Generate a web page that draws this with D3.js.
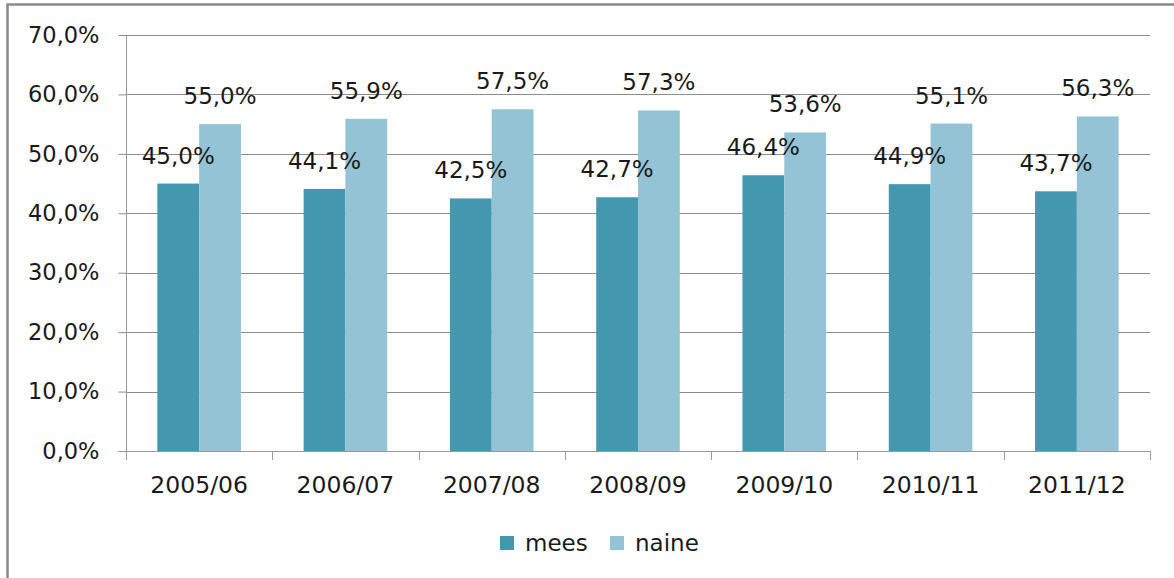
<!DOCTYPE html>
<html>
<head>
<meta charset="utf-8">
<script src="https://cdn.jsdelivr.net/npm/d3@7"></script>
<style>
  body { margin: 0; background: #fff; }
  text { font-family: "DejaVu Sans", sans-serif; fill: #1a1a1a; }
</style>
</head>
<body>
<div id="main"></div>
<script>
const categories = ["2005/06", "2006/07", "2007/08", "2008/09", "2009/10", "2010/11", "2011/12"];
const seriesNames = ["mees", "naine"];
const mees = [45.0, 44.1, 42.5, 42.7, 46.4, 44.9, 43.7];
const naine = [55.0, 55.9, 57.5, 57.3, 53.6, 55.1, 56.3];
const yTicks = [0, 10, 20, 30, 40, 50, 60, 70];
const colors = ["#4398b0", "#93c3d5"];

const svgWidth = 1174;
const svgHeight = 578;
const fmt = v => v.toFixed(1).replace(".", ",") + "%";

const svg = d3.select("#main")
              .append("svg")
              .attr("width", svgWidth)
              .attr("height", svgHeight);

// outer frame (only top and left edges show)
svg.append("path")
   .attr("d", "M7.5," + svgHeight + " V4.5 H" + svgWidth)
   .attr("fill", "none")
   .attr("stroke", "#8a8a8a")
   .attr("stroke-width", 2.5);

const xScale = d3.scaleBand()
                 .domain(categories)
                 .range([126, 1150])
                 .padding(0);

const xInner = d3.scaleBand()
                 .domain(seriesNames)
                 .range([0, xScale.bandwidth()])
                 .paddingInner(0)
                 .paddingOuter(0.75);

const yScale = d3.scaleLinear()
                 .domain([0, 70])
                 .range([451, 35]);

// gridlines + left axis
const yAxis = d3.axisLeft(yScale)
                .tickValues(yTicks)
                .tickSize(8)
                .tickFormat(fmt);

svg.append("g")
   .attr("class", "grid")
   .selectAll("line")
   .data(yTicks.filter(d => d > 0))
   .enter()
   .append("line")
   .attr("x1", 126)
   .attr("x2", 1150)
   .attr("y1", d => Math.round(yScale(d)) + 0.5)
   .attr("y2", d => Math.round(yScale(d)) + 0.5)
   .attr("stroke", "#8c8c8c");

const gy = svg.append("g")
              .attr("transform", "translate(126.5,0)")
              .call(yAxis);
gy.select(".domain").attr("stroke", "#9a9a9a").attr("d", "M0,35V451");
gy.selectAll(".tick line").attr("stroke", "#8c8c8c");
gy.selectAll(".tick text")
  .attr("x", -27)
  .attr("font-size", "22.5px")
  .attr("font-family", "DejaVu Sans");

// bottom axis
const xAxis = d3.axisBottom(xScale)
                .tickSize(0)
                .tickPadding(0);

const gx = svg.append("g")
              .attr("transform", "translate(0,451.5)")
              .call(xAxis);
gx.select(".domain").attr("stroke", "#9a9a9a").attr("d", "M118,0H1150");
gx.selectAll(".tick text")
  .attr("y", 25)
  .attr("dy", "0.71em")
  .attr("font-size", "23.5px")
  .attr("font-family", "DejaVu Sans");

svg.append("g")
   .selectAll("line")
   .data(categories.map(c => xScale(c)).concat([xScale.range()[1]]))
   .enter()
   .append("line")
   .attr("x1", d => Math.round(d) + 0.5)
   .attr("x2", d => Math.round(d) + 0.5)
   .attr("y1", 451)
   .attr("y2", 460)
   .attr("stroke", "#9a9a9a");

// bars
const rows = categories.map((c, i) => ({ cat: c, values: [mees[i], naine[i]] }));

const groups = svg.selectAll(".group")
                  .data(rows)
                  .enter()
                  .append("g")
                  .attr("class", "group")
                  .attr("transform", d => "translate(" + xScale(d.cat) + ",0)");

groups.selectAll("rect")
      .data(d => d.values.map((v, j) => ({ name: seriesNames[j], value: v, j: j })))
      .enter()
      .append("rect")
      .attr("x", d => xInner(d.name))
      .attr("y", d => yScale(d.value))
      .attr("width", xInner.bandwidth())
      .attr("height", d => yScale(0) - yScale(d.value))
      .attr("fill", d => colors[d.j]);

groups.selectAll(".lbl")
      .data(d => d.values.map((v, j) => ({ name: seriesNames[j], value: v })))
      .enter()
      .append("text")
      .attr("class", "lbl")
      .attr("x", d => xInner(d.name) + xInner.bandwidth() / 2)
      .attr("y", d => yScale(d.value) - 20)
      .attr("text-anchor", "middle")
      .attr("font-size", "23px")
      .text(d => fmt(d.value));

// legend
const legend = svg.append("g").attr("transform", "translate(500,536)");
const legX = [0, 110];
seriesNames.forEach((name, j) => {
  legend.append("rect")
        .attr("x", legX[j])
        .attr("y", 0)
        .attr("width", 14)
        .attr("height", 14)
        .attr("fill", colors[j]);
  legend.append("text")
        .attr("x", legX[j] + 25)
        .attr("y", 7)
        .attr("dy", "0.35em")
        .attr("font-size", "23px")
        .text(name);
});
</script>
</body>
</html>
